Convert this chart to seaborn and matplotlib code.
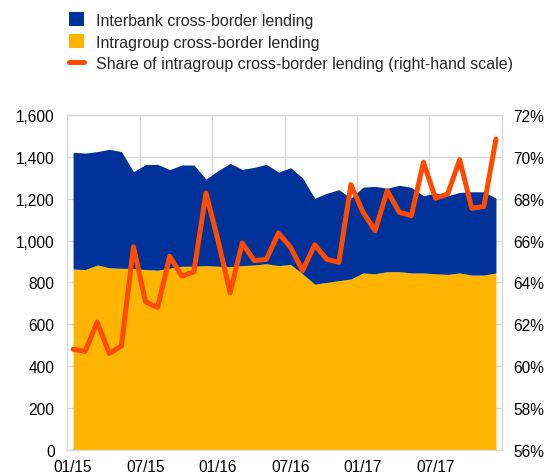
import numpy as np
import pandas as pd
import matplotlib
matplotlib.use("Agg")
import matplotlib.pyplot as plt
import seaborn as sns
from matplotlib.patches import Patch
from matplotlib.lines import Line2D
from matplotlib.ticker import FuncFormatter, FixedLocator

# monthly data, 01/15 - 12/17
months = pd.date_range("2015-01-01", "2017-12-01", freq="MS")
month_labels = [d.strftime("%m/%y") for d in months]

total_lending = [1422, 1418, 1425, 1436, 1425, 1329, 1363, 1364, 1339, 1361,
                 1361, 1294, 1334, 1369, 1340, 1350, 1364, 1327, 1348, 1299,
                 1202, 1226, 1243, 1203, 1255, 1259, 1250, 1264, 1254, 1214,
                 1227, 1214, 1230, 1233, 1233, 1202]
intragroup = [864, 861, 883, 870, 867, 867, 861, 858, 868, 877,
              877, 880, 877, 875, 880, 883, 889, 880, 886, 840,
              791, 800, 808, 816, 845, 841, 851, 851, 845, 845,
              841, 838, 845, 835, 835, 845]
interbank = [t - i for t, i in zip(total_lending, intragroup)]
share_intragroup = [60.8, 60.7, 62.1, 60.6, 60.96, 65.7, 63.07, 62.8, 65.25, 64.3,
                    64.5, 68.27, 66.0, 63.5, 65.88, 65.04, 65.1, 66.36, 65.67, 64.56,
                    65.8, 65.1, 64.96, 68.67, 67.35, 66.47, 68.38, 67.35, 67.19, 69.74,
                    68.02, 68.22, 69.86, 67.54, 67.63, 70.85]

df = pd.DataFrame({
    "idx": np.arange(len(months)),
    "month": month_labels,
    "intragroup": intragroup,
    "interbank": interbank,
    "share": share_intragroup,
})

BLUE = "#003299"
YELLOW = "#FFB400"
ORANGE = "#FF4B00"
GRID = "#D9D9D9"

sns.set_theme(style="white")
plt.rcParams["font.family"] = ["Liberation Sans", "DejaVu Sans"]
FS = 11.2
LEG_FS = 11.5

fig = plt.figure(figsize=(5.52, 4.77), dpi=100)
ax = fig.add_axes([0.1214, 0.0551, 0.7880, 0.7017])

ax.stackplot(df["idx"], df["intragroup"], df["interbank"],
             colors=[YELLOW, BLUE], linewidth=0, zorder=2)
ax.set_xlim(-0.5, len(months) - 0.5)
ax.set_ylim(0, 1600)
ax.set_yticks(np.arange(0, 1601, 200))
ax.yaxis.set_major_formatter(FuncFormatter(lambda v, p: f"{int(v):,}"))

ax.set_xticks(df["idx"][::6])
ax.set_xticklabels(df["month"][::6])
ax.xaxis.set_minor_locator(FixedLocator(np.arange(5.5, len(months) - 1, 6)))
ax.grid(axis="y", color=GRID, linewidth=1, zorder=0)
ax.grid(axis="x", which="minor", color=GRID, linewidth=1, zorder=0)
ax.grid(axis="x", which="major", visible=False)
ax.set_axisbelow(True)
ax.tick_params(axis="both", which="both", length=0, labelsize=FS, colors="black")
ax.tick_params(axis="x", pad=7)
ax.tick_params(axis="y", pad=9)
for s in ax.spines.values():
    s.set_color(GRID)
    s.set_linewidth(1)
ax.set_xlabel("")
ax.set_ylabel("")

ax2 = ax.twinx()
sns.lineplot(data=df, x="idx", y="share", ax=ax2, color=ORANGE, linewidth=3.6,
             zorder=5)
ax2.set_ylim(56, 72)
ax2.set_yticks(np.arange(56, 73, 2))
ax2.yaxis.set_major_formatter(FuncFormatter(lambda v, p: f"{int(v)}%"))
ax2.tick_params(axis="y", length=0, labelsize=FS, pad=8, colors="black")
ax2.set_xlim(-0.5, len(months) - 0.5)
ax2.set_xlabel("")
ax2.set_ylabel("")
for s in ax2.spines.values():
    s.set_visible(False)

handles = [
    Patch(facecolor=BLUE, edgecolor="none"),
    Patch(facecolor=YELLOW, edgecolor="none"),
    Line2D([0], [0], color=ORANGE, linewidth=3.6),
]
labels = ["Interbank cross-border lending",
          "Intragroup cross-border lending",
          "Share of intragroup cross-border lending (right-hand scale)"]
fig.legend(handles, labels, loc="upper left", bbox_to_anchor=(0.108, 0.992),
           frameon=False, fontsize=LEG_FS, handlelength=0.9, handleheight=0.95,
           handletextpad=0.75, labelspacing=0.4, borderaxespad=0.2)

fig.savefig("out.png", dpi=100)
